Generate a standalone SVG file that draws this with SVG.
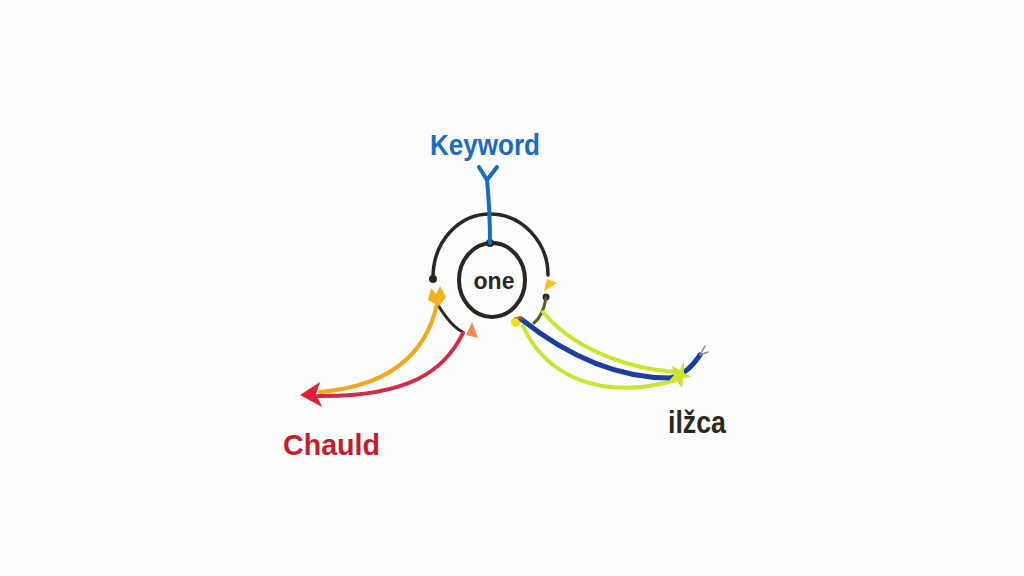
<svg xmlns="http://www.w3.org/2000/svg" width="1024" height="576" viewBox="0 0 1024 576">
<style>
.s{fill:none;stroke-linecap:round;stroke-linejoin:round}
.k{stroke:#2b2622}
.t{font-family:"Liberation Sans","DejaVu Sans",sans-serif;font-weight:bold}
</style>
<rect width="1024" height="576" fill="#fdfdfd"/>
<g id="keyword">
<text class="t" x="430" y="155" font-size="30" fill="#1a6cc0" textLength="110" lengthAdjust="spacingAndGlyphs">Keyword</text>
</g>
<g id="center">
<ellipse cx="492" cy="280" rx="33" ry="37" class="s k" stroke-width="4"/>
<text class="t" x="494" y="289" font-size="23" fill="#2b2622" text-anchor="middle">one</text>
<path class="s k" stroke-width="3.5" d="M433,278 C433,240 460,214 490,214 C522,214 548,242 548,275"/>
<circle cx="433" cy="279" r="4" fill="#2b2622"/>
<circle cx="546" cy="297" r="3.5" fill="#2b2622"/>
<circle cx="490" cy="243" r="4" fill="#2b2622"/>
</g>
<g id="chauld">
<text class="t" x="283" y="455" font-size="30" fill="#c41e2e" textLength="97" lengthAdjust="spacingAndGlyphs">Chauld</text>
</g>
<g id="ilzca">
<text class="t" x="668" y="433" font-size="31" fill="#2a2818" textLength="58" lengthAdjust="spacingAndGlyphs">ilžca</text>
</g>
<g id="connectors">
<path class="s" stroke="#1a6cc0" stroke-width="4" d="M479,167 L487,180 L497,167 M487,180 C489,200 490,222 490,243"/>
<path class="s k" stroke-width="3" d="M438,305 C446,318 454,328 463,332"/>
<path class="s" stroke="#f2a81e" stroke-width="4" d="M437,304 C428,345 400,385 320,392"/>
<path class="s" stroke="#d42a48" stroke-width="4" d="M463,333 C445,370 410,397 318,396"/>
<path fill="#f5b020" d="M428,300 L431,288 L436,294 L440,286 L446,297 L439,306 Z"/>
<path fill="#f08a50" d="M466,335 L472,322 L478,338 Z"/>
<path fill="#e0203a" d="M300,395 L320,382 L316,394 L322,407 Z"/>
<path fill="#f5c020" d="M547,279 L544,291 L551,287 L557,283 Z"/>
<path class="s" stroke="#5a5a2a" stroke-width="3" d="M546,298 C544,310 540,318 534,323"/>
<circle cx="516" cy="322" r="5" fill="#f0e020"/>
<path class="s" stroke="#c8e630" stroke-width="4" d="M543,312 C570,345 620,368 676,372"/>
<path class="s" stroke="#c8e630" stroke-width="4" d="M523,326 C545,375 600,402 676,380"/>
<path class="s" stroke="#1c3f9e" stroke-width="5" d="M521,319 C560,350 610,378 670,378 C685,375 693,365 700,355"/>
<path class="s" stroke="#889" stroke-width="1.5" d="M700,355 L705,346 M700,355 L708,352"/>
<path fill="#c8e630" d="M672,366 L680,370 L684,360 L684,373 L692,377 L683,378 L682,388 L676,380 L668,382 L674,375 Z"/>
<path fill="#b06030" d="M514,318 L520,316 L524,320 Z"/>
</g>
</svg>
